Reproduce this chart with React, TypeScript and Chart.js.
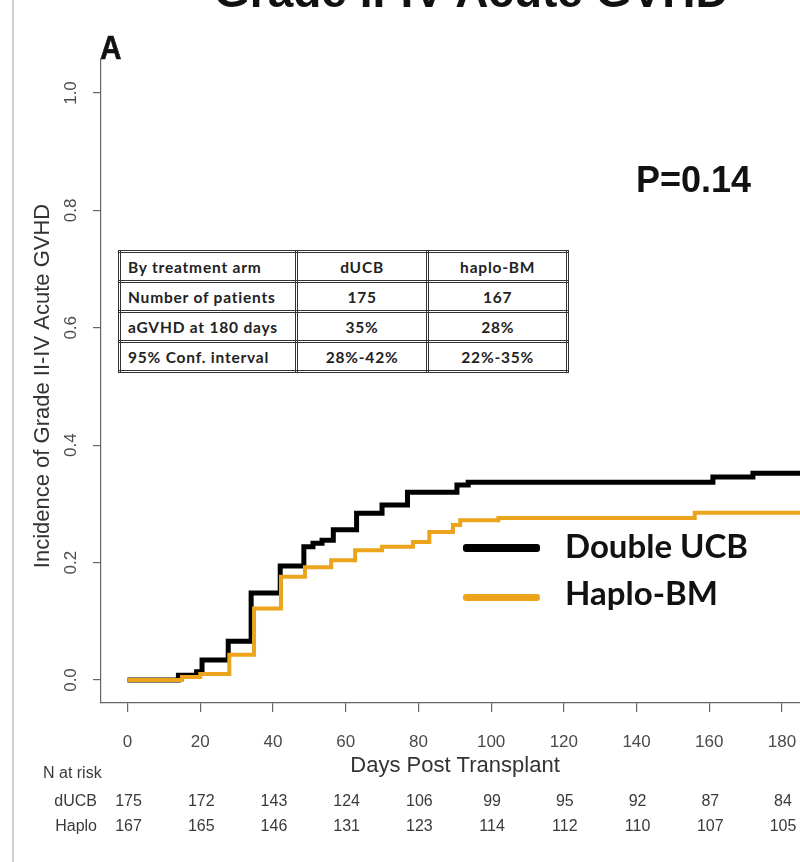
import React, { useEffect, useRef } from "react";
import { Chart, registerables } from "chart.js";

Chart.register(...registerables);

// Kaplan-Meier style cumulative incidence (step points: day, incidence)
const dUcbDays = [0, 14, 19, 20.5, 27.7, 34, 42, 48.5, 51, 53.5, 56.6, 63, 70, 77, 90.6, 93.7, 161, 172, 185];
const dUcbInc = [0, 0.008, 0.014, 0.034, 0.066, 0.148, 0.194, 0.227, 0.233, 0.238, 0.256, 0.284, 0.298, 0.32, 0.332, 0.337, 0.346, 0.352, 0.352];
const haploDays = [0, 15, 20, 28, 34.8, 42.2, 48.8, 56, 62.6, 70, 78.5, 83, 89.5, 91.5, 102, 156, 185];
const haploInc = [0, 0.005, 0.01, 0.043, 0.122, 0.176, 0.192, 0.204, 0.221, 0.227, 0.235, 0.252, 0.264, 0.272, 0.276, 0.285, 0.285];

const xTicks = [0, 20, 40, 60, 80, 100, 120, 140, 160, 180];
const yTicks = [0, 0.2, 0.4, 0.6, 0.8, 1.0];
const dUcbAtRisk = [175, 172, 143, 124, 106, 99, 95, 92, 87, 84];
const haploAtRisk = [167, 165, 146, 131, 123, 114, 112, 110, 107, 105];

const tableHeader = ["By treatment arm", "dUCB", "haplo-BM"];
const tableRows = [
  ["Number of patients", "175", "167"],
  ["aGVHD at 180 days", "35%", "28%"],
  ["95% Conf. interval", "28%-42%", "22%-35%"],
];

const titleText = "Grade II-IV Acute GVHD";
const yTitle = "Incidence of Grade II-IV Acute GVHD";
const xTitle = "Days Post Transplant";
const seriesNames = ["Double UCB", "Haplo-BM"];
const pValue = "P=0.14";

const BLACK = "#000000";
const ORANGE = "#EBA41B";

const textPlugin = {
  id: "rtexts",
  afterDraw(chart: any) {
    const ctx = chart.ctx as CanvasRenderingContext2D;
    const xs = chart.scales.x;
    const ys = chart.scales.y;
    ctx.save();
    ctx.textAlign = "center";
    ctx.textBaseline = "middle";
    // y tick labels (rotated, R style)
    ctx.fillStyle = "#4a4a4a";
    ctx.font = "17px Arial, 'Liberation Sans'";
    yTicks.forEach((v) => {
      const py = ys.getPixelForValue(v);
      ctx.save();
      ctx.translate(71, py);
      ctx.rotate(-Math.PI / 2);
      ctx.fillText(v.toFixed(1), 0, 0);
      ctx.restore();
    });
    // y title
    ctx.fillStyle = "#333";
    ctx.font = "22px Arial, 'Liberation Sans'";
    ctx.save();
    ctx.translate(43, 386);
    ctx.rotate(-Math.PI / 2);
    ctx.fillText(yTitle, 0, 0);
    ctx.restore();
    // x tick labels
    ctx.fillStyle = "#4a4a4a";
    ctx.font = "17px Arial, 'Liberation Sans'";
    xTicks.forEach((v) => ctx.fillText(String(v), xs.getPixelForValue(v), 742));
    // x title
    ctx.fillStyle = "#333";
    ctx.font = "22px Arial, 'Liberation Sans'";
    ctx.fillText(xTitle, 455, 766);
    // N at risk
    ctx.fillStyle = "#3a3a3a";
    ctx.font = "16px Arial, 'Liberation Sans'";
    ctx.textAlign = "left";
    ctx.fillText("N at risk", 43, 774);
    ctx.textAlign = "right";
    ctx.fillText("dUCB", 97, 802);
    ctx.fillText("Haplo", 97, 827);
    ctx.textAlign = "center";
    xTicks.forEach((v, i) => {
      const px = xs.getPixelForValue(v);
      ctx.fillText(String(dUcbAtRisk[i]), px + 1, 802);
      ctx.fillText(String(haploAtRisk[i]), px + 1, 827);
    });
    ctx.restore();
  },
};

function ChartCanvas() {
  const ref = useRef<HTMLCanvasElement | null>(null);
  useEffect(() => {
    if (!ref.current) return;
    const chart = new Chart(ref.current, {
      type: "line",
      data: {
        datasets: [
          {
            label: seriesNames[1],
            data: haploDays.map((d, i) => ({ x: d, y: haploInc[i] })),
            borderColor: ORANGE,
            borderWidth: 4,
            stepped: "before",
            pointRadius: 0,
            fill: false,
          },
          {
            label: seriesNames[0],
            data: dUcbDays.map((d, i) => ({ x: d, y: dUcbInc[i] })),
            borderColor: BLACK,
            borderWidth: 5,
            stepped: "before",
            pointRadius: 0,
            fill: false,
          },
        ],
      },
      options: {
        responsive: false,
        animation: false,
        layout: { padding: { top: 60, left: 0, right: 0, bottom: 0 } },
        plugins: { legend: { display: false }, tooltip: { enabled: false }, title: { display: false } },
        scales: {
          x: {
            type: "linear",
            min: -7.29,
            max: 184.95,
            afterBuildTicks: (s: any) => {
              s.ticks = xTicks.map((v) => ({ value: v }));
            },
            afterFit: (s: any) => {
              s.height = 159;
            },
            ticks: { display: false },
            grid: { drawOnChartArea: false, drawTicks: true, tickLength: 9, color: "#666", lineWidth: 1.2 },
            border: { display: true, color: "#666", width: 1.2 },
          },
          y: {
            type: "linear",
            min: -0.0392,
            max: 1.0562,
            afterBuildTicks: (s: any) => {
              s.ticks = yTicks.map((v) => ({ value: v }));
            },
            afterFit: (s: any) => {
              s.width = 101;
            },
            ticks: { display: false },
            grid: { drawOnChartArea: false, drawTicks: true, tickLength: 8, color: "#666", lineWidth: 1.2 },
            border: { display: true, color: "#666", width: 1.2 },
          },
        },
      },
      plugins: [textPlugin],
    });
    return () => chart.destroy();
  }, []);
  return <canvas ref={ref} width={800} height={862} style={{ position: "absolute", left: 0, top: 0 }} />;
}

export default function App() {
  const cell: React.CSSProperties = {
    border: "3px double #333",
    height: 27,
    padding: "0 7px",
    textAlign: "center",
    whiteSpace: "nowrap",
  };
  return (
    <div style={{ position: "absolute", left: 0, top: 0, width: 800, height: 862, overflow: "hidden", background: "#fff" }}>
      <ChartCanvas />
      <div style={{ position: "absolute", left: 12, top: 0, width: 2, height: 862, background: "#cfcfcf" }} />
      <div
        style={{
          position: "absolute",
          left: 214,
          top: -32,
          fontFamily: "Arial, 'Liberation Sans'",
          fontWeight: 700,
          fontSize: 46,
          lineHeight: "46px",
          whiteSpace: "nowrap",
          color: "#111",
        }}
      >
        {titleText}
      </div>
      <div
        style={{
          position: "absolute",
          left: 100,
          top: 31,
          fontFamily: "Arial, 'Liberation Sans'",
          fontWeight: 700,
          fontSize: 33,
          lineHeight: "34px",
          transform: "scaleX(0.9)",
          transformOrigin: "left top",
          color: "#111",
          WebkitTextStroke: "0.6px #111",
        }}
      >
        A
      </div>
      <div
        style={{
          position: "absolute",
          left: 636,
          top: 162,
          fontFamily: "Arial, 'Liberation Sans'",
          fontWeight: 700,
          fontSize: 36,
          lineHeight: "36px",
          whiteSpace: "nowrap",
          color: "#111",
        }}
      >
        {pValue}
      </div>
      <table
        style={{
          position: "absolute",
          left: 118,
          top: 250,
          width: 451,
          borderCollapse: "collapse",
          fontFamily: "Lato, 'Open Sans', sans-serif",
          fontWeight: 700,
          fontSize: 15.5,
          letterSpacing: "0.8px",
          color: "#222",
          background: "#fff",
        }}
      >
        <colgroup>
          <col style={{ width: 177 }} />
          <col style={{ width: 133 }} />
          <col style={{ width: 141 }} />
        </colgroup>
        <tbody>
          <tr>
            <td style={{ ...cell, textAlign: "left" }}>{tableHeader[0]}</td>
            <td style={cell}>{tableHeader[1]}</td>
            <td style={cell}>{tableHeader[2]}</td>
          </tr>
          {tableRows.map((r, i) => (
            <tr key={i}>
              <td style={{ ...cell, textAlign: "left" }}>{r[0]}</td>
              <td style={cell}>{r[1]}</td>
              <td style={cell}>{r[2]}</td>
            </tr>
          ))}
        </tbody>
      </table>
      <div style={{ position: "absolute", left: 463, top: 544, width: 77, height: 8, background: BLACK, borderRadius: 3 }} />
      <div style={{ position: "absolute", left: 463, top: 594, width: 77, height: 7, background: ORANGE, borderRadius: 3 }} />
      <div
        style={{
          position: "absolute",
          left: 565,
          top: 530,
          fontFamily: "Lato, 'Open Sans', sans-serif",
          fontWeight: 700,
          fontSize: 33,
          lineHeight: "30px",
          whiteSpace: "nowrap",
          color: "#111",
        }}
      >
        {seriesNames[0]}
      </div>
      <div
        style={{
          position: "absolute",
          left: 565,
          top: 577,
          fontFamily: "Lato, 'Open Sans', sans-serif",
          fontWeight: 700,
          fontSize: 33,
          lineHeight: "30px",
          whiteSpace: "nowrap",
          color: "#111",
        }}
      >
        {seriesNames[1]}
      </div>
    </div>
  );
}
